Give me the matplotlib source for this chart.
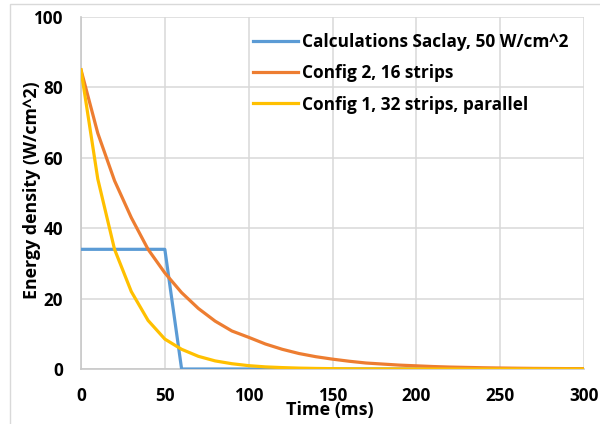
import numpy as np
import matplotlib.pyplot as plt
from matplotlib.patches import Rectangle

plt.rcParams['font.family'] = ['Open Sans', 'DejaVu Sans']
plt.rcParams['font.weight'] = 'bold'

# time axis (ms)
t_saclay = [0, 50, 60, 300]
e_saclay = [34, 34, 0, 0]

t_cfg = list(range(0, 310, 10))
e_cfg2 = [85, 67, 53.5, 43, 34, 27.3, 21.7, 17.2, 13.6, 10.8, 9.0,
          7.1, 5.6, 4.4, 3.5, 2.8, 2.2, 1.7, 1.4, 1.1, 0.9,
          0.7, 0.55, 0.45, 0.35, 0.28, 0.22, 0.17, 0.14, 0.11, 0.09]
e_cfg1 = [85, 54, 34, 22, 13.8, 8.5, 5.6, 3.6, 2.3, 1.5, 0.95,
          0.6, 0.4, 0.25, 0.16, 0.1, 0.06, 0.04, 0.03, 0.02, 0.01,
          0, 0, 0, 0, 0, 0, 0, 0, 0, 0]

labels = ['Calculations Saclay, 50 W/cm^2', 'Config 2, 16 strips',
          'Config 1, 32 strips, parallel']
colors = ['#5B9BD5', '#ED7D31', '#FFC000']

fig = plt.figure(figsize=(6, 4.24), dpi=100)
ax = fig.add_axes([81/600, 1 - 369/424, (584 - 81)/600, (369 - 17)/424])

ax.plot(t_saclay, e_saclay, color=colors[0], lw=2.3, label=labels[0], zorder=3)
ax.plot(t_cfg, e_cfg2, color=colors[1], lw=2.3, label=labels[1], zorder=4)
ax.plot(t_cfg, e_cfg1, color=colors[2], lw=2.3, label=labels[2], zorder=5)

ax.set_xlim(0, 300)
ax.set_ylim(0, 100)
ax.set_xticks(range(0, 301, 50))
ax.set_yticks(range(0, 101, 20))
ax.grid(True, color='#d9d9d9', lw=1.1)
ax.set_axisbelow(True)
for s in ['top', 'right']:
    ax.spines[s].set_visible(False)
for s in ['left', 'bottom']:
    ax.spines[s].set_color('#c8c8c8')
    ax.spines[s].set_linewidth(1.2)
ax.tick_params(length=0, labelsize=12.3, pad=13)
for lbl in ax.get_xticklabels() + ax.get_yticklabels():
    lbl.set_fontweight('bold')

# x title sits partly over the tick labels, like the original
ax.text(0.5 - 3/503, (369 - 410)/352, 'Time (ms)', transform=ax.transAxes,
        ha='center', va='center', fontsize=13, fontweight='bold')
fig.text(32/600, 1 - 190/424, 'Energy density (W/cm^2)', rotation=90,
         ha='center', va='center', fontsize=12.8, fontweight='bold')

leg = ax.legend(loc='upper left', bbox_to_anchor=((253 - 81)/503, 1 - (33 - 17)/352),
                frameon=False, fontsize=12.4, handlelength=2.6, handletextpad=0.25,
                labelspacing=0.77, borderaxespad=0, borderpad=0)
for txt in leg.get_texts():
    txt.set_fontweight('bold')

fig.patches.append(Rectangle((10/600, -0.1), 1.2, 1 - 4/424 + 0.1,
                             transform=fig.transFigure, fill=False,
                             edgecolor='#d9d9d9', lw=1))

fig.savefig('out.png', dpi=100)
